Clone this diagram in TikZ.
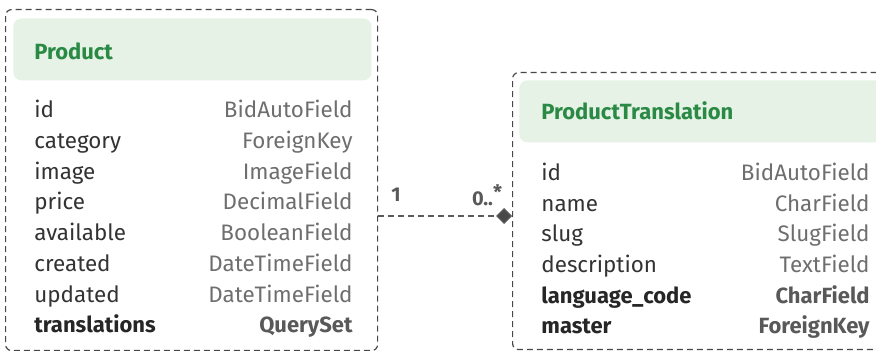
\documentclass[tikz,border=0pt]{standalone}
\usepackage{fontspec}
\setmainfont{Fira Sans}
\usepackage{tikz}
\usetikzlibrary{arrows.meta,positioning}
\definecolor{hdrfill}{RGB}{229,242,229}
\definecolor{hdrtext}{RGB}{42,138,69}
\definecolor{fldname}{RGB}{51,51,51}
\definecolor{fldtype}{RGB}{110,110,110}
\definecolor{edgegray}{RGB}{72,72,72}
\tikzset{
  modelbox/.style={draw=edgegray, line width=0.6pt, dash pattern=on 3pt off 2pt,
    rounded corners=3pt, inner sep=0pt},
  header/.style={fill=hdrfill, rounded corners=4pt, inner sep=0pt},
  title/.style={anchor=base west, inner sep=0pt, text=hdrtext,
    font=\fontsize{11}{13}\selectfont\bfseries},
  fname/.style={anchor=base west, inner sep=0pt, text=fldname,
    font=\fontsize{11.2}{13}\selectfont},
  ftype/.style={anchor=base east, inner sep=0pt, text=fldtype,
    font=\fontsize{11.2}{13}\selectfont},
  keyname/.style={fname, text=black!85, font=\fontsize{11}{13}\selectfont\bfseries},
  keytype/.style={ftype, text=black!65, font=\fontsize{11}{13}\selectfont\bfseries},
  mult/.style={inner sep=0pt, text=black!65, font=\fontsize{10}{12}\selectfont\bfseries}
}
\begin{document}
\begin{tikzpicture}[x=0.5pt,y=-0.5pt]
  \useasboundingbox (0,0) rectangle (876,351);
  \clip (0,0) rectangle (876,351);

  % Product
  \node[modelbox, minimum width=372pt*0.5, minimum height=341pt*0.5, anchor=north west]
    (product) at (5,9) {};
  \node[header, minimum width=358pt*0.5, minimum height=62pt*0.5, anchor=north west]
    (producthdr) at (13,18) {};
  \node[title] (producttitle) at (34,60) {Product};

  \node[fname] (p1n) at (34,118) {id};
  \node[ftype] (p1t) at (353,118) {BidAutoField};
  \node[fname] (p2n) at (34,149) {category};
  \node[ftype] (p2t) at (353,149) {ForeignKey};
  \node[fname] (p3n) at (34,180) {image};
  \node[ftype] (p3t) at (353,180) {ImageField};
  \node[fname] (p4n) at (34,210) {price};
  \node[ftype] (p4t) at (353,210) {DecimalField};
  \node[fname] (p5n) at (34,241) {available};
  \node[ftype] (p5t) at (353,241) {BooleanField};
  \node[fname] (p6n) at (34,272) {created};
  \node[ftype] (p6t) at (353,272) {DateTimeField};
  \node[fname] (p7n) at (34,303) {updated};
  \node[ftype] (p7t) at (353,303) {DateTimeField};
  \node[keyname] (p8n) at (34,333) {translations};
  \node[keytype] (p8t) at (353,333) {QuerySet};

  % ProductTranslation
  \node[modelbox, minimum width=380pt*0.5, minimum height=277pt*0.5, anchor=north west]
    (translation) at (512,72) {};
  \node[header, minimum width=366pt*0.5, minimum height=62pt*0.5, anchor=north west]
    (translationhdr) at (519,80) {};
  \node[title] (translationtitle) at (541,120) {ProductTranslation};

  \node[fname] (t1n) at (541,181) {id};
  \node[ftype] (t1t) at (870,181) {BidAutoField};
  \node[fname] (t2n) at (541,212) {name};
  \node[ftype] (t2t) at (870,212) {CharField};
  \node[fname] (t3n) at (541,242) {slug};
  \node[ftype] (t3t) at (870,242) {SlugField};
  \node[fname] (t4n) at (541,273) {description};
  \node[ftype] (t4t) at (870,273) {TextField};
  \node[keyname] (t5n) at (541,304) {language\_code};
  \node[keytype] (t5t) at (870,304) {CharField};
  \node[keyname] (t6n) at (541,334) {master};
  \node[keytype] (t6t) at (870,334) {ForeignKey};

  % relation
  \coordinate (link) at (0,216);
  \draw[edgegray!90, line width=0.6pt, dash pattern=on 3pt off 2pt,
    -{Diamond[length=8pt,width=8pt,fill=edgegray]}]
    (product.east |- link) -- (translation.west |- link);
  \node[mult] (onelbl) at (396,195) {1};
  \node[mult] (manylbl) at (487,195) {0..\raisebox{3pt}{*}};
\end{tikzpicture}
\end{document}
